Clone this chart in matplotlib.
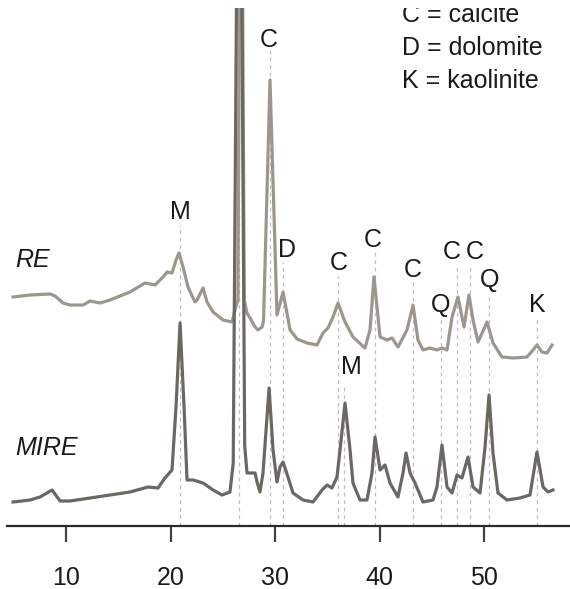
import matplotlib
matplotlib.use('Agg')
import matplotlib.pyplot as plt

plt.rcParams['font.family'] = ['Liberation Sans', 'DejaVu Sans']

# 2-theta (deg) and intensity (arbitrary units)
re_2theta = [4.93, 6.56, 8.47, 8.95, 9.71, 10.38, 11.63, 12.30, 13.25, 14.21, 16.12, 17.56,
             18.52, 19.28, 19.67, 20.14, 20.53, 20.81, 21.20, 21.67, 22.34, 22.54, 23.11, 23.49,
             24.07, 25.02, 25.89, 26.17, 26.45, 26.75, 27.05, 27.32, 27.61, 28.09, 28.37, 28.76,
             28.90, 29.52, 30.19, 30.77, 31.44, 32.11, 33.06, 34.02, 34.59, 35.07, 35.55, 36.03,
             36.70, 37.46, 38.61, 39.09, 39.47, 40.05, 40.72, 41.20, 41.77, 42.63, 43.21, 43.68,
             44.16, 44.83, 45.50, 45.98, 46.46, 46.94, 47.51, 48.09, 48.56, 48.95, 49.43, 50.29,
             50.86, 51.72, 52.78, 54.11, 54.69, 55.07, 55.55, 56.03, 56.51]
re_int = [69, 71, 72, 70, 63, 61, 61, 65, 63, 66, 74, 83,
          81, 89, 94, 93, 106, 113, 99, 79, 64, 66, 78, 64,
          54, 46, 44, 56, 66, 700, 66, 53, 48, 39, 36, 39,
          45, 286, 51, 74, 36, 27, 23, 21, 33, 38, 49, 63,
          44, 29, 18, 36, 89, 29, 26, 28, 19, 36, 61, 26,
          16, 18, 16, 18, 16, 49, 69, 39, 71, 46, 24, 44,
          23, 9, 8, 9, 16, 21, 14, 13, 21]

mire_2theta = [4.93, 6.56, 7.51, 8.66, 9.43, 10.38, 12.30, 14.21, 16.12, 17.85, 18.80, 19.47,
               20.14, 20.53, 20.91, 21.29, 21.58, 22.15, 23.11, 24.07, 24.93, 25.69, 26.00, 26.58,
               27.10, 27.32, 28.09, 28.28, 28.56, 28.85, 29.43, 29.81, 30.19, 30.48, 30.77, 31.24,
               31.72, 32.68, 33.64, 34.50, 34.98, 35.45, 35.93, 36.22, 36.70, 37.18, 37.46, 38.13,
               38.80, 39.28, 39.57, 40.05, 40.53, 41.00, 41.77, 42.25, 42.54, 42.92, 43.40, 44.16,
               45.12, 45.50, 45.98, 46.46, 46.94, 47.42, 47.89, 48.47, 48.95, 49.62, 50.10, 50.48,
               50.86, 51.34, 52.20, 53.44, 54.40, 55.07, 55.65, 56.12, 56.60]
mire_int = [4, 6, 9, 16, 5, 5, 8, 11, 14, 19, 18, 28,
            36, 100, 183, 100, 26, 26, 23, 16, 11, 14, 43, 900,
            60, 33, 33, 24, 14, 33, 118, 56, 24, 39, 44, 29,
            13, 6, 4, 16, 21, 18, 29, 56, 103, 56, 23, 6,
            6, 33, 69, 36, 41, 23, 9, 33, 53, 33, 23, 4,
            6, 19, 61, 19, 13, 31, 28, 49, 19, 13, 59, 111,
            53, 13, 6, 8, 11, 54, 19, 14, 16]

RE_OFFSET = 160
MIRE_OFFSET = 20

# peak assignments: position, letter, label position, top of guide line
peak_pos = [20.9, 26.6, 29.5, 30.8, 36.05, 36.63, 39.6, 43.2, 45.9, 47.4, 48.66, 50.5, 55.1]
peak_lab = ['M', '', 'C', 'D', 'C', 'M', 'C', 'C', 'Q', 'C', 'C', 'Q', 'K']
lab_x = [20.91, 26.6, 29.43, 31.15, 36.12, 37.27, 39.38, 43.21, 45.89, 46.94, 49.14, 50.57, 55.07]
lab_y = [314, 0, 486, 276, 263, 159, 286, 256, 221, 274, 274, 246, 221]
line_top = [301, 518, 476, 264, 250, 141, 274, 244, 208, 261, 261, 232, 208]

legend_lines = ['C = calcite', 'D = dolomite', 'K = kaolinite']

fig = plt.figure(figsize=(5.70, 5.89), dpi=100)
ax = fig.add_axes([7 / 570, 63 / 589, 563 / 570, 518 / 589])
ax.set_xlim(4.35, 58.23)
ax.set_ylim(0, 518)

for p, t in zip(peak_pos, line_top):
    ax.plot([p, p], [0, t], color='#bdbdbd', lw=0.9, ls=(0, (3, 3)), zorder=1)

ax.plot(re_2theta, [v + RE_OFFSET for v in re_int], color='#9c978e', lw=2.3, zorder=3,
        solid_joinstyle='round')
ax.plot(mire_2theta, [v + MIRE_OFFSET for v in mire_int], color='#6b6762', lw=2.3, zorder=4,
        solid_joinstyle='round')

for lab, x, y in zip(peak_lab, lab_x, lab_y):
    if lab:
        ax.text(x, y, lab, ha='center', va='center', fontsize=18, color='#1a1a1a', zorder=5)

ax.text(5.12, 266, 'RE', style='italic', ha='left', va='center', fontsize=18, color='#1a1a1a')
ax.text(5.12, 78, 'MIRE', style='italic', ha='left', va='center', fontsize=18, color='#1a1a1a')

for i, s in enumerate(legend_lines):
    t = ax.text(42.15, 511 - i * 33, s, ha='left', va='center', fontsize=18, color='#1a1a1a')
    t.set_clip_on(True)

for side in ['top', 'left', 'right']:
    ax.spines[side].set_visible(False)
ax.spines['bottom'].set_linewidth(1.6)
ax.spines['bottom'].set_color('#2a2a2a')
ax.set_yticks([])
ax.set_xticks([10, 20, 30, 40, 50])
ax.tick_params(axis='x', direction='out', length=11.5, width=1.6, color='#444444',
               labelsize=18, labelcolor='#1a1a1a', pad=17.5)
ax.patch.set_alpha(0)

fig.savefig('out.png', dpi=100)
